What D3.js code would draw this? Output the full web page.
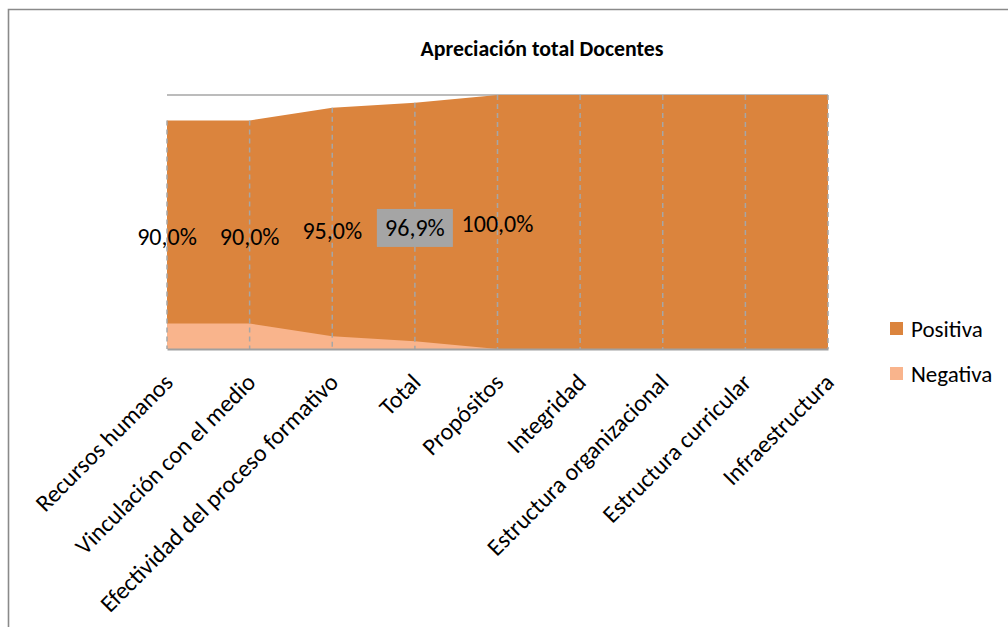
<!DOCTYPE html>
<html>
<head>
<meta charset="utf-8">
<script src="https://cdn.jsdelivr.net/npm/d3@7"></script>
<style>
  html, body { margin: 0; padding: 0; background: #fff; }
  text { font-family: Carlito, Lato, "Open Sans", sans-serif; fill: #000; }
</style>
</head>
<body>
<div id="chart"></div>
<script>
"use strict"

// Apreciación total Docentes: overlapping area chart

var categories = [
  "Recursos humanos", "Vinculación con el medio",
  "Efectividad del proceso formativo", "Total", "Propósitos",
  "Integridad", "Estructura organizacional", "Estructura curricular",
  "Infraestructura"
]
var positiva = [0.90, 0.90, 0.95, 0.969, 1, 1, 1, 1, 1]
var negativa = [0.10, 0.10, 0.05, 0.031, 0, 0, 0, 0, 0]
// only the first five points carry a data label in the source
var labelled = [0, 1, 2, 3, 4]
var highlighted = 3
var seriesNames = ["Positiva", "Negativa"]

var width = 1008
var height = 627
var colorPos = "#db843d"
var colorNeg = "#f9b48c"
var gridColor = "#a6a6a6"
var fontSize = "24px"

var svg = d3.select("#chart").append("svg")
  .attr("width", width)
  .attr("height", height)

// chart frame (only left and top edges show in the source)
svg.append("path")
  .attr("d", "M8.5,627V9.5H1008")
  .attr("fill", "none")
  .attr("stroke", "#8a8a8a")
  .attr("stroke-width", 1.6)

svg.append("text")
  .attr("x", 542)
  .attr("y", 56)
  .attr("text-anchor", "middle")
  .style("font-size", "21.8px")
  .style("font-weight", "bold")
  .text("Apreciación total Docentes")

var x = d3.scalePoint()
  .domain(categories)
  .range([167, 828])

var y = d3.scaleLinear()
  .domain([0, 1])
  .range([349, 95])

var pos = categories.map(function(c, i) { return {cat: c, value: positiva[i]} })
var neg = categories.map(function(c, i) { return {cat: c, value: negativa[i]} })

var area = d3.area()
  .x(function(d) { return x(d.cat) })
  .y0(y(0))
  .y1(function(d) { return y(d.value) })

// horizontal gridline at 100%
svg.append("g")
  .selectAll("line")
  .data(y.ticks(1).slice(1))
  .enter().append("line")
    .attr("x1", x.range()[0])
    .attr("x2", x.range()[1])
    .attr("y1", function(d) { return y(d) })
    .attr("y2", function(d) { return y(d) })
    .attr("stroke", gridColor)
    .attr("stroke-width", 1.5)

svg.append("path")
  .datum(pos)
  .attr("d", area)
  .attr("fill", colorPos)

svg.append("path")
  .datum(neg)
  .attr("d", area)
  .attr("fill", colorNeg)

// drop lines
svg.append("g")
  .selectAll("line")
  .data(pos)
  .enter().append("line")
    .attr("x1", function(d) { return x(d.cat) })
    .attr("x2", function(d) { return x(d.cat) })
    .attr("y1", function(d) { return y(d.value) })
    .attr("y2", y(0))
    .attr("stroke", gridColor)
    .attr("stroke-width", 1.5)
    .attr("stroke-dasharray", "5,4")

// category axis
var axis = svg.append("g")
  .attr("transform", "translate(0," + y(0) + ")")
  .call(d3.axisBottom(x).tickSize(0).tickPadding(0))
axis.select(".domain")
  .attr("stroke", "#a0a0a0")
  .attr("stroke-width", 2)
axis.selectAll(".tick text")
  .attr("transform", "translate(-5,23) rotate(-45)")
  .attr("text-anchor", "end")
  .attr("y", 0)
  .attr("dy", "0.7em")
  .style("font-size", fontSize)
  .attr("fill", "#000")
axis.attr("font-family", null)

// data labels
var labels = svg.append("g")
  .selectAll("g")
  .data(labelled.map(function(i) { return pos[i] }))
  .enter().append("g")
    .attr("transform", function(d) {
      return "translate(" + x(d.cat) + "," + (y(d.value / 2) + 2) + ")"
    })

labels.filter(function(d, i) { return labelled[i] === highlighted })
  .append("rect")
    .attr("x", -38)
    .attr("y", -19)
    .attr("width", 76)
    .attr("height", 38)
    .attr("fill", "#a5a5a5")

labels.append("text")
  .attr("text-anchor", "middle")
  .attr("dy", "0.35em")
  .style("font-size", fontSize)
  .text(function(d) { return d3.format(".1f")(d.value * 100).replace(".", ",") + "%" })

// legend
var legend = svg.append("g")
  .selectAll("g")
  .data(seriesNames)
  .enter().append("g")
    .attr("transform", function(d, i) { return "translate(890," + (322 + i * 45) + ")" })
legend.append("rect")
  .attr("width", 13)
  .attr("height", 13)
  .attr("fill", function(d, i) { return i === 0 ? colorPos : colorNeg })
legend.append("text")
  .attr("x", 21)
  .attr("y", 7)
  .attr("dy", "0.35em")
  .style("font-size", "23px")
  .text(function(d) { return d })
</script>
</body>
</html>
